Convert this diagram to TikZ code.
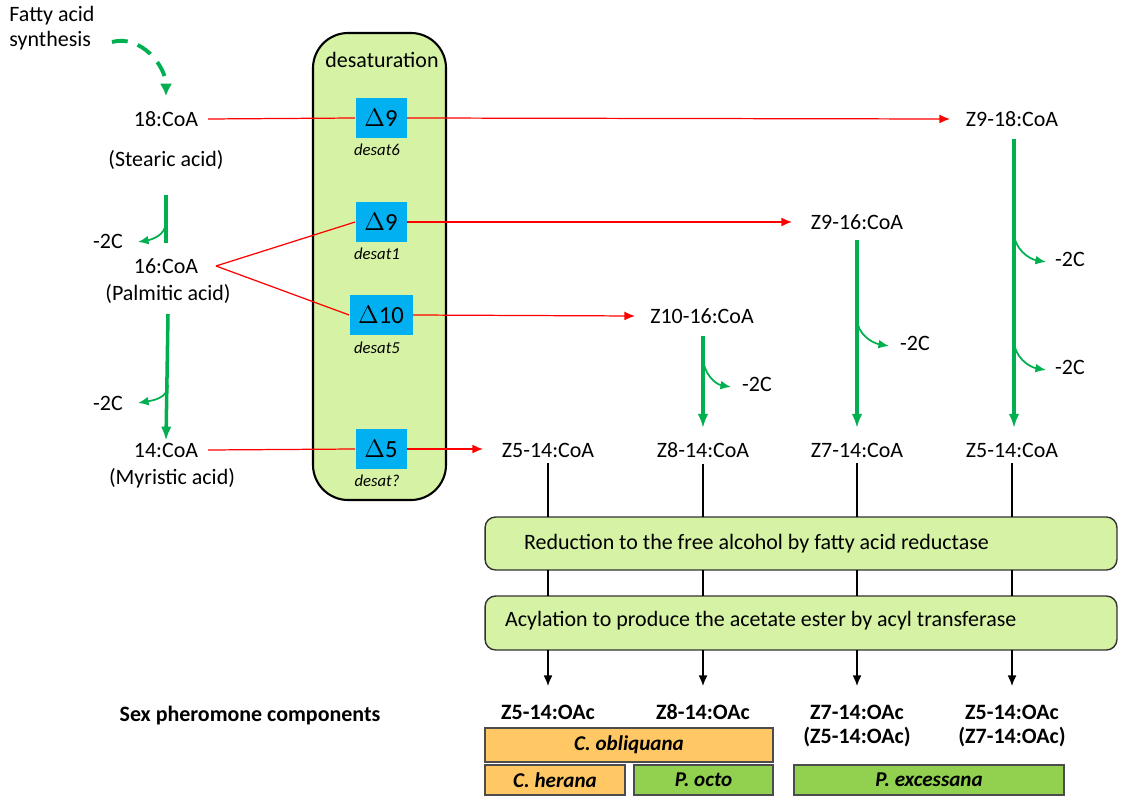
\documentclass[tikz,border=0pt]{standalone}
\usepackage{fontspec}
\setmainfont{Carlito}
\usetikzlibrary{arrows.meta}
\definecolor{pgreen}{RGB}{0,176,80}
\definecolor{lgreen}{RGB}{214,242,164}
\definecolor{dblue}{RGB}{0,176,240}
\definecolor{porange}{RGB}{255,200,100}
\definecolor{bgreen}{RGB}{146,208,80}
\tikzset{
  txt/.style={inner sep=1pt, font=\fontsize{12.5}{14}\selectfont},
  delta/.style={fill=dblue, inner sep=0pt, minimum height=0.8cm, font=\fontsize{14}{16}\selectfont},
  gene/.style={inner sep=0pt, font=\fontsize{9.5}{11}\itshape\selectfont},
  redl/.style={red, line width=0.7pt},
  reda/.style={red, line width=0.7pt, -{Latex[length=6pt,width=5pt]}},
  grn/.style={pgreen, line width=2pt, -{Latex[length=8pt,width=6pt]}},
  grnb/.style={pgreen, line width=1pt, -{Latex[length=6pt,width=5pt]}},
  enzbox/.style={draw=black!80, fill=lgreen, rounded corners=6pt, line width=0.8pt},
  bar/.style={draw=black!70, line width=0.6pt, font=\fontsize{12}{14}\bfseries\itshape\selectfont},
  prod/.style={inner sep=1pt, font=\fontsize{12.5}{14}\bfseries\selectfont, align=center}
}
\begin{document}
\begin{tikzpicture}[x=0.02cm, y=-0.02cm]
\useasboundingbox (0,0) rectangle (1124,800);
% desaturation box
\draw[fill=lgreen, rounded corners=20pt, line width=1.2pt] (313,33) rectangle (446,500);
\node[txt] (dstlabel) at (382,60) {desaturation};
% substrates
\node[txt, align=left] (fas) at (52,28) {Fatty acid\\synthesis};
\node[txt] (c18) at (166,119) {18:CoA};
\node[txt] (stearic) at (166,160) {(Stearic acid)};
\node[txt] (c16) at (166,266) {16:CoA};
\node[txt] (palmitic) at (168,294) {(Palmitic acid)};
\node[txt] (c14) at (166,450) {14:CoA};
\node[txt] (myristic) at (172,478) {(Myristic acid)};
% desaturases
\node[delta, minimum width=1.02cm] (d9a) at (381,118) {$\Delta$9};
\node[gene] (g6) at (377,150) {desat6};
\node[delta, minimum width=1.02cm] (d9b) at (381,222) {$\Delta$9};
\node[gene] (g1) at (377,254) {desat1};
\node[delta, minimum width=1.26cm] (d10) at (381,315) {$\Delta$10};
\node[gene] (g5) at (377,348) {desat5};
\node[delta, minimum width=1.02cm] (d5) at (381,449) {$\Delta$5};
\node[gene] (gq) at (377,481) {desat?};
% products
\node[txt] (z918) at (1012,119) {Z9-18:CoA};
\node[txt] (z916) at (857,222) {Z9-16:CoA};
\node[txt] (z1016) at (702,316) {Z10-16:CoA};
\node[txt] (z514a) at (548,450) {Z5-14:CoA};
\node[txt] (z814) at (703,450) {Z8-14:CoA};
\node[txt] (z714) at (857,450) {Z7-14:CoA};
\node[txt] (z514b) at (1012,450) {Z5-14:CoA};
% chain shortening labels
\node[txt] (m1) at (108,241) {-2C};
\node[txt] (m2) at (108,403) {-2C};
\node[txt] (m3) at (1070,259) {-2C};
\node[txt] (m4) at (1070,367) {-2C};
\node[txt] (m5) at (915,343) {-2C};
\node[txt] (m6) at (757,384) {-2C};
% green arrows
\draw[pgreen, line width=2.2pt, dashed, dash pattern=on 9pt off 6pt, -{Latex[length=7pt,width=7pt]}]
  (112,42) to[out=15, in=90] (166,96);
\draw[pgreen, line width=2pt] (166,195) -- (166,243);
\draw[grnb] (166,222) to[out=-90, in=10] (138,242);
\draw[grn] (168,314) -- (c14.north);
\draw[grnb] (168,385) to[out=-90, in=10] (138,403);
\draw[grn] (z918.south) ++(2,10) -- (1014,428);
\draw[grnb] (1014,232) to[out=-90, in=170] (1046,262);
\draw[grnb] (1014,340) to[out=-90, in=170] (1046,370);
\draw[grn] (z916.south) ++(0,8) -- (857,428);
\draw[grnb] (857,318) to[out=-90, in=170] (889,346);
\draw[grn] (z1016.south) ++(1,10) -- (703,428);
\draw[grnb] (703,357) to[out=-90, in=170] (731,387);
% red connectors
\draw[redl] (c18.east) ++(8,0) -- (d9a.west);
\draw[redl] (216,266) -- (d9b.west);
\draw[redl] (216,266) -- (d10.west);
\draw[redl] (c14.east) ++(8,0) -- (d5.west);
\draw[reda] (d9a.east) -- (950,119);
\draw[reda] (d9b.east) -- (792,222);
\draw[reda] (d10.east) -- (635,316);
\draw[reda] (d5.east) -- (483,449);
% enzymatic steps
\node[enzbox, minimum width=12.64cm, minimum height=1.06cm] (red) at (801,543.5) {};
\node[txt, anchor=west] (redtxt) at (522,543.5) {Reduction to the free alcohol by fatty acid reductase};
\node[enzbox, minimum width=12.64cm, minimum height=1.08cm] (acy) at (801,623) {};
\node[txt, anchor=west] (acytxt) at (503,621) {Acylation to produce the acetate ester by acyl transferase};
% product labels
\node[prod] (p1) at (548,712) {Z5-14:OAc};
\node[prod] (p2) at (703,712) {Z8-14:OAc};
\node[prod] (p3) at (857,726) {Z7-14:OAc\\(Z5-14:OAc)};
\node[prod] (p4) at (1012,726) {Z5-14:OAc\\(Z7-14:OAc)};
\node[prod] (spc) at (250,716) {Sex pheromone components};
\foreach \s/\x in {z514a/548, z814/703, z714/857, z514b/1012}{
  \draw[black, line width=0.7pt] (\s.south) ++(0,4) -- (\x,517);
  \draw[black, line width=0.7pt] (\x,570) -- (\x,596);
  \draw[black, line width=0.7pt, -{Latex[length=6pt,width=5pt]}] (\x,650) -- (\x,686);
}
% species bars
\draw[bar, fill=porange] (485,728) rectangle node (obl) {C. obliquana} (773,762);
\draw[bar, fill=porange] (485,765) rectangle node (her) {C. herana} (625,795);
\draw[bar, fill=bgreen] (634,765) rectangle node (oct) {P. octo} (773,795);
\draw[bar, fill=bgreen] (794,765) rectangle node (exc) {P. excessana} (1064,795);
\end{tikzpicture}
\end{document}
